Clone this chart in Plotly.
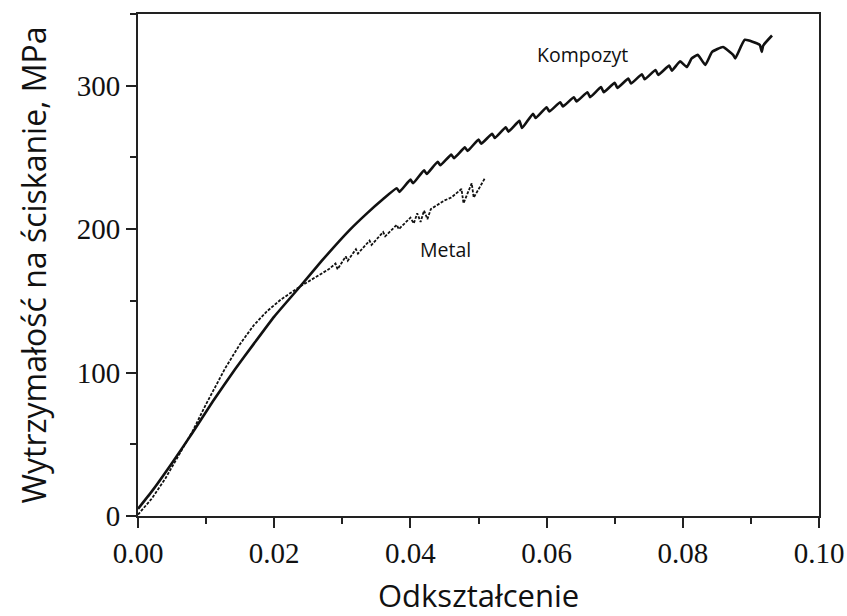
import plotly.graph_objects as go

# Kompozyt (solid curve): strain, stress [MPa]
comp_x = [0.0, 0.002, 0.005, 0.008, 0.011, 0.0142, 0.017, 0.020, 0.0238, 0.027,
          0.0311, 0.0335, 0.0360,
          0.0380, 0.0384, 0.0400, 0.0404, 0.0420, 0.0424, 0.0440, 0.0444,
          0.0460, 0.0464, 0.0480, 0.0484, 0.0500, 0.0504, 0.0520, 0.0524,
          0.0540, 0.0544, 0.0560, 0.0564, 0.0580, 0.0584, 0.0600, 0.0604,
          0.0620, 0.0624, 0.0640, 0.0644, 0.0660, 0.0664, 0.0680, 0.0684,
          0.0700, 0.0704, 0.0720, 0.0724, 0.0740, 0.0744, 0.0760, 0.0764,
          0.0780, 0.0784, 0.0796, 0.0806, 0.0813, 0.0822, 0.0833, 0.0843,
          0.0859, 0.0874, 0.0877, 0.0891, 0.0913, 0.0916, 0.0918, 0.0931]
comp_y = [5, 17, 37, 58, 80, 102, 120, 139, 160, 178,
          199.5, 210.5, 221,
          228.5, 226, 234.5, 232, 241, 238.5, 247, 244.5,
          252, 249.5, 257, 254.5, 262.5, 259.5, 266.5, 263.5,
          271, 268, 275.5, 270.5, 280.5, 277.5, 285, 282,
          288.5, 285.5, 292, 289, 295.5, 292, 299, 295.5,
          302, 298.5, 305, 301.5, 308, 304.5, 311, 307.5,
          314, 310.5, 317, 313, 319, 321.5, 314.5, 323.6,
          327, 321.5, 319, 332, 328.5, 323.6, 328, 335]

# Metal (dotted curve)
metal_x = [0.0, 0.002, 0.004, 0.006, 0.008, 0.010, 0.0128, 0.015, 0.017, 0.019,
           0.021, 0.0238, 0.026, 0.028, 0.0290, 0.0293, 0.0305, 0.0308, 0.0320, 0.0323,
           0.0340, 0.0343, 0.0360, 0.0363, 0.0380, 0.0383, 0.0400, 0.0405, 0.0410, 0.0415,
           0.0420, 0.0425, 0.0430, 0.0440, 0.0450, 0.0460, 0.0470, 0.0475, 0.0478, 0.0490,
           0.0493, 0.0510]
metal_y = [1, 12, 26, 42, 59, 78, 103, 120, 133, 143,
           151, 160, 166, 172, 176, 172, 181, 178, 186, 183,
           192, 189, 198, 195, 203, 200, 208, 204, 211, 205,
           213, 207, 214, 217, 220, 222, 226, 228, 218, 232,
           222, 236]

x_ticks = [0.00, 0.02, 0.04, 0.06, 0.08, 0.10]
x_tick_labels = ["0.00", "0.02", "0.04", "0.06", "0.08", "0.10"]
y_ticks = [0, 100, 200, 300]
y_tick_labels = ["0", "100", "200", "300"]

fig = go.Figure()
fig.add_trace(go.Scatter(x=comp_x, y=comp_y, mode="lines", name="Kompozyt",
                         line=dict(color="#111111", width=2.6, shape="spline", smoothing=0.4)))
fig.add_trace(go.Scatter(x=metal_x, y=metal_y, mode="lines", name="Metal",
                         line=dict(color="#111111", width=1.8, dash="3px,1.5px")))

axis_common = dict(showline=True, linecolor="#222222", linewidth=2, mirror=True,
                   ticks="outside", ticklen=10, tickwidth=2, tickcolor="#222222",
                   showgrid=False, zeroline=False, automargin=False,
                   tickfont=dict(family="Liberation Serif, Times New Roman, serif",
                                 size=29, color="#111111"))

fig.update_xaxes(range=[0, 0.10], tickvals=x_ticks, ticktext=x_tick_labels,
                 minor=dict(ticks="outside", ticklen=6, tickwidth=2, tickcolor="#222222", dtick=0.01, tick0=0),
                 **axis_common)
fig.update_yaxes(range=[0, 350], tickvals=y_ticks, ticktext=y_tick_labels,
                 minor=dict(ticks="outside", ticklen=6, tickwidth=2, tickcolor="#222222", dtick=50, tick0=0),
                 title=dict(text="Wytrzymałość na ściskanie, MPa", standoff=21,
                            font=dict(family="Open Sans, sans-serif", size=32, color="#111111")),
                 **axis_common)

# x-axis title placed below the tick labels
fig.add_annotation(x=0.5, y=-0.157, xref="paper", yref="paper", text="Odkształcenie",
                   showarrow=False, xanchor="center", yanchor="middle", borderpad=0,
                   font=dict(family="Open Sans, sans-serif", size=31, color="#111111"))

fig.add_annotation(x=0.0652, y=322, text="Kompozyt", showarrow=False,
                   font=dict(family="Open Sans, sans-serif", size=19.5, color="#111111"))
fig.add_annotation(x=0.0452, y=186, text="Metal", showarrow=False,
                   font=dict(family="Open Sans, sans-serif", size=19.5, color="#111111"))

fig.update_layout(width=847, height=616, showlegend=False,
                  margin=dict(l=138, r=28, t=14, b=100),
                  paper_bgcolor="white", plot_bgcolor="white")

fig.write_html("out.html")
